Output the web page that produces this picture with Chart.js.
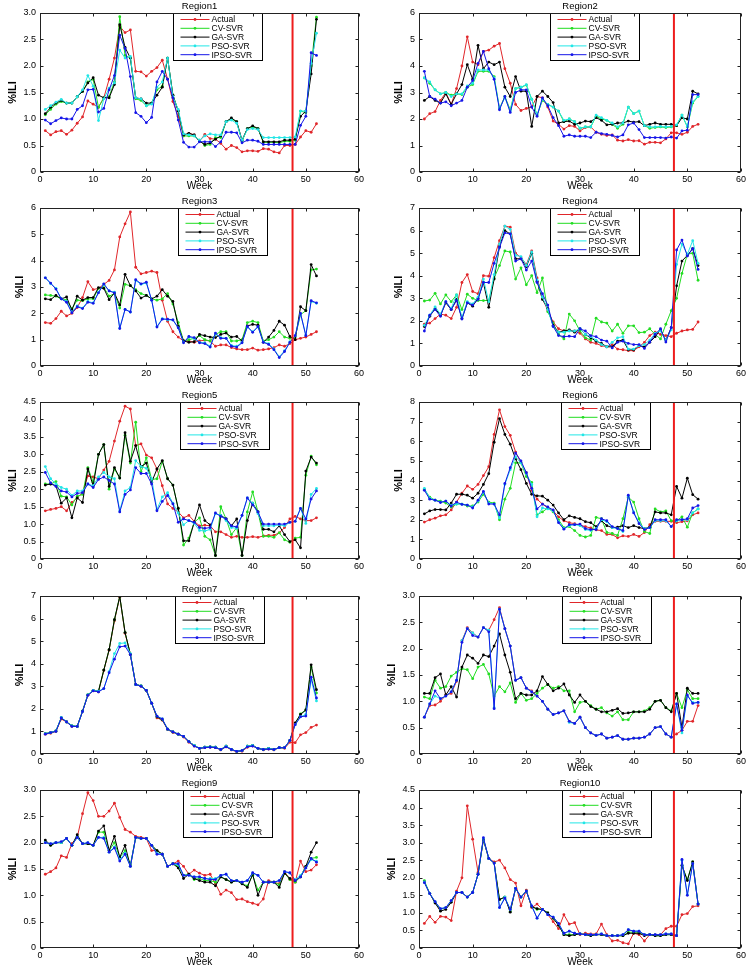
<!DOCTYPE html>
<html>
<head>
<meta charset="utf-8">
<script src="https://cdn.jsdelivr.net/npm/chart.js@4.4.1/dist/chart.umd.min.js"></script>
<style>
  body { margin: 0; background: #fff; width: 751px; height: 970px; position: relative; overflow: hidden; }
  canvas { position: absolute; }
</style>
</head>
<body>
<script>
// ---- data ----
const weeks = [1,2,3,4,5,6,7,8,9,10,11,12,13,14,15,16,17,18,19,20,21,22,23,24,25,26,
  27,28,29,30,31,32,33,34,35,36,37,38,39,40,41,42,43,44,45,46,47,48,49,50,51,52];
const seriesNames = ['Actual', 'CV-SVR', 'GA-SVR', 'PSO-SVR', 'IPSO-SVR'];
const regionNames = ['Region1','Region2','Region3','Region4','Region5','Region6','Region7','Region8','Region9','Region10'];
const yMaxes = [3, 6, 6, 7, 4.5, 8, 7, 3, 3, 4.5];
const ySteps = [0.5, 1, 1, 1, 0.5, 1, 1, 0.5, 0.5, 0.5];
const xTicks = [0, 10, 20, 30, 40, 50, 60];
const splitWeek = 47.5;

const r1Actual = [0.78,0.70,0.76,0.78,0.71,0.79,0.92,1.04,1.34,1.28,
  1.22,1.40,1.75,2.15,2.75,2.63,2.68,1.90,1.89,1.81,
  1.90,1.97,2.11,1.75,1.33,1.05,0.68,0.73,0.70,0.58,
  0.71,0.63,0.62,0.54,0.43,0.50,0.46,0.38,0.40,0.40,
  0.39,0.44,0.43,0.38,0.36,0.50,0.50,0.52,0.66,0.78,
  0.75,0.91];
const r1CV = [1.08,1.18,1.28,1.33,1.30,1.30,1.42,1.52,1.70,1.75,
  1.22,1.40,1.42,1.70,2.93,2.20,2.15,1.38,1.35,1.25,
  1.30,1.55,1.62,2.15,1.45,1.15,0.68,0.68,0.68,0.60,
  0.50,0.52,0.65,0.65,0.95,1.00,0.95,0.58,0.82,0.85,
  0.82,0.56,0.56,0.56,0.55,0.58,0.58,0.60,1.15,1.12,
  2.00,2.92];
const r1GA = [1.10,1.22,1.30,1.35,1.30,1.30,1.42,1.52,1.68,1.78,
  1.45,1.40,1.40,1.65,2.78,2.35,2.15,1.40,1.38,1.30,
  1.30,1.45,1.60,2.15,1.45,1.15,0.70,0.73,0.70,0.58,
  0.52,0.55,0.62,0.68,0.95,1.02,0.95,0.60,0.82,0.87,
  0.82,0.57,0.57,0.57,0.57,0.60,0.60,0.62,1.05,1.15,
  1.85,2.88];
const r1PSO = [1.18,1.25,1.32,1.37,1.30,1.30,1.42,1.55,1.82,1.62,
  0.97,1.38,1.58,1.68,2.30,2.15,2.18,1.40,1.38,1.25,
  1.28,1.60,1.70,2.15,1.42,1.18,0.72,0.70,0.68,0.60,
  0.68,0.72,0.70,0.70,0.95,0.98,0.92,0.60,0.80,0.82,
  0.80,0.65,0.65,0.65,0.65,0.65,0.65,0.66,1.15,1.15,
  2.05,2.62];
const r1IPSO = [0.98,0.91,0.97,1.02,1.00,1.00,1.18,1.25,1.55,1.56,
  1.13,1.20,1.55,1.82,2.58,2.33,1.80,1.12,1.05,0.93,
  1.03,1.70,1.90,1.75,1.40,0.98,0.56,0.47,0.47,0.57,
  0.57,0.57,0.48,0.57,0.75,0.75,0.74,0.55,0.60,0.60,
  0.58,0.52,0.52,0.52,0.52,0.52,0.52,0.52,0.88,1.05,
  2.25,2.20];

const r2Actual = [2.00,2.20,2.28,2.70,3.00,2.55,3.15,4.00,5.10,4.15,
  4.05,4.55,4.60,4.75,4.85,3.90,3.35,2.55,2.32,2.40,
  2.45,2.85,2.80,2.45,1.92,1.80,1.62,1.75,1.72,1.55,
  1.68,1.70,1.50,1.42,1.38,1.40,1.20,1.17,1.22,1.17,
  1.18,1.05,1.12,1.12,1.10,1.25,1.48,1.48,1.42,1.50,
  1.72,1.80];
const r2CV = [3.55,3.35,3.10,2.95,3.00,2.90,2.95,2.92,3.20,3.30,
  3.80,3.80,3.80,3.60,2.40,2.85,2.35,3.15,3.20,3.28,
  2.75,2.15,2.70,2.55,2.45,2.30,1.90,2.00,1.90,1.65,
  1.70,1.70,2.10,2.00,1.95,1.80,1.65,1.80,2.45,2.20,
  2.30,1.75,1.65,1.68,1.70,1.68,1.70,1.75,2.15,1.70,
  2.60,2.85];
const r2GA = [2.70,2.85,2.70,2.60,2.95,2.55,2.95,3.30,4.05,3.50,
  4.78,3.90,4.15,4.05,4.15,3.20,2.85,3.60,3.05,3.05,
  1.72,2.85,3.05,2.85,2.62,1.85,1.90,1.92,1.80,1.85,
  1.92,1.90,2.05,1.95,1.78,1.80,1.85,1.85,1.92,1.88,
  1.90,1.75,1.80,1.85,1.80,1.80,1.80,1.75,2.05,2.00,
  3.05,2.95];
const r2PSO = [3.55,3.40,3.10,2.95,3.00,2.85,2.95,2.95,3.25,3.35,
  3.85,3.85,3.85,3.55,2.40,2.80,2.30,3.15,3.20,3.30,
  2.75,2.15,2.75,2.55,2.45,2.30,1.95,2.00,1.90,1.65,
  1.70,1.70,2.15,2.05,1.95,1.85,1.70,1.85,2.45,2.20,
  2.30,1.75,1.70,1.70,1.72,1.70,1.72,1.78,2.15,1.72,
  2.65,2.85];
const r2IPSO = [3.80,2.85,2.75,2.60,2.65,2.50,2.60,2.70,3.20,3.45,
  4.10,4.55,3.90,3.50,2.35,2.85,2.25,3.00,3.10,3.10,
  2.45,2.10,2.80,2.50,2.05,1.75,1.35,1.40,1.35,1.35,
  1.35,1.30,1.50,1.45,1.42,1.38,1.32,1.40,1.78,1.85,
  1.60,1.30,1.30,1.30,1.30,1.28,1.32,1.28,1.55,1.58,
  2.92,2.92];

const r3Actual = [1.65,1.62,1.80,2.08,1.90,2.00,2.22,2.60,3.20,2.90,
  2.95,3.10,3.25,3.65,4.90,5.40,5.85,3.75,3.50,3.55,
  3.60,3.55,2.50,1.70,1.30,1.10,0.95,0.95,0.90,0.95,
  0.98,0.95,0.75,0.80,0.80,0.70,0.65,0.62,0.62,0.68,
  0.60,0.62,0.65,0.70,0.80,0.75,0.85,1.00,1.05,1.10,
  1.20,1.30];
const r3CV = [2.70,2.68,2.65,2.55,2.50,2.18,2.50,2.48,2.55,2.55,
  2.95,2.98,2.65,2.75,2.20,3.10,3.05,2.90,2.75,2.68,
  2.55,2.50,2.55,2.75,2.35,1.65,0.95,1.00,1.05,1.15,
  1.00,0.95,1.20,1.30,1.30,0.95,0.95,1.00,1.65,1.70,
  1.65,0.95,1.00,1.10,1.30,1.10,1.05,1.10,1.95,2.10,
  3.65,3.68];
const r3GA = [2.55,2.52,2.68,2.55,2.62,2.12,2.65,2.50,2.60,2.60,
  2.98,2.95,2.52,2.78,2.32,3.48,3.05,2.85,2.58,2.68,
  2.55,2.65,2.90,2.65,2.45,1.50,0.95,0.90,0.92,1.20,
  1.15,1.10,1.08,1.20,1.25,1.10,1.12,0.95,1.52,1.58,
  1.55,0.90,1.10,1.35,1.70,1.55,1.12,1.00,2.25,2.10,
  3.85,3.42];
const r3PSO = [3.35,3.12,2.95,2.55,2.45,2.05,2.28,2.20,2.45,2.40,
  2.80,3.10,2.85,2.80,1.45,2.15,2.05,3.25,3.10,3.15,
  2.50,1.50,1.80,1.75,1.75,1.45,0.90,1.10,1.05,0.90,
  0.88,0.75,1.22,1.08,1.05,0.78,0.75,0.90,1.48,1.30,
  1.48,0.92,0.85,0.65,0.35,0.58,0.92,1.15,1.98,1.18,
  2.45,2.38];
const r3IPSO = [3.35,3.15,2.92,2.55,2.42,2.02,2.25,2.18,2.42,2.38,
  2.78,3.12,2.85,2.78,1.42,2.15,2.05,3.28,3.12,3.18,
  2.50,1.48,1.78,1.78,1.75,1.45,0.88,1.12,1.08,0.88,
  0.85,0.72,1.25,1.05,1.05,0.75,0.72,0.88,1.50,1.28,
  1.50,0.90,0.82,0.62,0.32,0.55,0.90,1.15,2.00,1.15,
  2.48,2.40];

const r4Actual = [1.85,1.90,2.10,2.30,2.25,2.10,2.60,3.70,4.05,3.30,
  3.20,4.00,3.98,4.80,5.55,6.20,6.15,5.00,4.80,4.50,
  5.10,3.90,3.00,2.45,1.95,1.65,1.55,1.58,1.55,1.45,
  1.20,1.05,1.00,0.90,0.85,0.95,0.75,0.72,0.68,0.68,
  0.85,1.05,1.35,1.50,1.40,1.35,1.30,1.45,1.55,1.60,
  1.62,1.95];
const r4CV = [2.88,2.92,3.22,2.75,3.15,2.85,3.15,2.50,3.18,3.00,
  2.90,2.90,2.90,3.90,4.45,5.10,5.05,3.85,4.35,3.60,
  4.00,3.25,3.90,2.40,1.90,1.40,1.20,2.30,2.00,1.55,
  1.25,1.15,2.12,1.95,1.90,1.55,1.85,1.45,1.78,1.78,
  1.48,1.50,1.65,1.40,1.20,1.85,2.45,3.00,4.10,4.95,
  5.00,3.80];
const r4GA = [1.75,2.20,2.55,2.25,2.80,2.50,2.95,2.10,2.80,2.65,
  3.00,3.70,2.60,3.85,5.30,6.00,5.85,4.75,4.75,4.40,
  5.00,3.75,2.95,2.55,1.80,1.50,1.55,1.60,1.50,1.65,
  1.40,1.25,1.10,1.00,0.85,0.85,1.10,1.15,0.72,0.72,
  0.90,0.85,1.05,1.30,1.60,1.15,1.70,3.55,4.65,4.90,
  5.20,4.45];
const r4PSO = [1.80,2.25,2.62,2.30,2.85,2.55,3.15,2.15,2.85,2.75,
  3.05,3.85,2.85,4.05,5.40,6.20,6.05,4.90,4.85,4.45,
  5.05,3.80,3.05,2.50,1.75,1.50,1.50,1.55,1.55,1.65,
  1.40,1.30,1.15,0.95,0.85,1.05,1.25,1.30,0.75,0.75,
  0.90,0.95,1.15,1.45,1.55,1.15,1.60,4.50,5.40,4.95,
  5.55,4.55];
const r4IPSO = [1.55,2.25,2.50,2.20,2.85,2.50,2.90,2.08,2.80,2.70,
  2.95,3.70,3.70,4.55,5.25,5.90,5.85,4.65,4.75,4.25,
  4.65,3.70,3.20,2.70,1.75,1.35,1.30,1.32,1.30,1.65,
  1.55,1.35,1.30,1.15,1.10,0.80,1.05,1.10,1.00,0.95,
  0.95,0.78,1.06,1.40,1.65,1.06,1.70,5.14,5.58,4.87,
  5.20,4.28];

const r5Actual = [1.38,1.42,1.45,1.50,1.38,1.62,1.75,1.90,2.38,2.35,
  2.30,2.55,2.80,3.38,3.95,4.38,4.30,3.25,3.30,2.98,
  2.90,2.58,2.10,1.58,1.45,1.35,1.18,1.25,1.08,0.95,
  0.97,0.95,0.78,0.78,0.70,0.62,0.65,0.62,0.62,0.64,
  0.62,0.66,0.68,0.68,0.75,0.90,1.15,1.22,1.15,1.10,
  1.10,1.18];
const r5CV = [2.15,2.15,2.22,1.80,1.78,1.55,1.80,1.85,2.62,2.20,
  3.00,3.28,2.00,2.58,2.32,3.55,2.75,3.92,2.50,2.90,
  2.28,2.30,2.80,2.30,2.12,1.45,0.40,0.60,1.05,1.18,
  0.65,0.55,0.10,1.50,1.15,0.70,0.90,0.10,1.35,1.92,
  1.35,0.65,0.65,0.62,0.75,0.55,0.48,0.60,0.62,2.40,
  2.95,2.70];
const r5GA = [2.12,2.15,2.10,1.60,1.75,1.18,1.75,1.62,2.58,2.10,
  3.00,3.28,2.08,2.62,2.32,3.62,2.80,3.25,2.65,2.75,
  2.20,2.58,2.82,2.30,2.12,1.45,0.52,0.52,1.05,1.55,
  1.10,0.98,0.10,1.25,1.15,0.95,1.15,0.10,1.10,1.60,
  1.35,0.85,0.85,0.78,0.95,0.70,0.50,0.55,0.32,2.52,
  2.92,2.75];
const r5PSO = [2.65,2.30,2.15,2.05,2.00,1.82,1.95,1.95,2.15,2.10,
  2.35,2.48,2.35,2.30,1.38,1.95,2.05,2.82,2.65,2.60,
  2.30,1.42,1.78,1.90,1.60,1.32,0.98,1.10,1.02,0.82,
  0.80,0.85,1.30,1.25,1.10,0.90,0.88,1.25,1.75,1.60,
  1.30,0.95,0.95,0.95,0.98,0.95,1.05,1.08,1.45,1.02,
  1.85,2.02];
const r5IPSO = [2.48,2.18,2.08,1.95,1.92,1.78,1.88,1.90,2.15,2.05,
  2.28,2.35,2.25,2.15,1.35,1.85,1.98,2.62,2.45,2.45,
  2.15,1.38,1.65,1.82,1.58,1.05,1.15,1.10,1.05,0.90,
  0.88,0.90,1.32,1.22,1.15,0.95,0.92,1.25,1.75,1.55,
  1.35,1.00,1.00,1.00,1.00,1.00,1.05,1.08,1.45,1.15,
  1.72,1.95];

const r6Actual = [1.88,2.00,2.08,2.20,2.25,2.50,2.90,3.35,3.72,3.55,
  3.80,4.25,4.70,6.35,7.60,6.75,6.30,5.45,4.90,4.40,
  3.50,3.05,2.80,2.60,2.45,2.15,1.95,1.85,1.80,1.72,
  1.65,1.58,1.48,1.45,1.25,1.25,1.08,1.18,1.15,1.25,
  1.15,1.35,1.75,1.92,1.92,1.92,1.92,1.85,1.90,1.95,
  2.25,2.35];
const r6CV = [3.55,3.15,3.00,2.95,2.85,2.65,2.80,2.80,2.70,2.70,
  2.90,3.30,2.90,2.85,2.00,3.05,3.60,4.90,4.90,4.20,
  3.90,2.25,2.40,2.60,2.40,2.00,1.60,1.65,1.45,1.20,
  1.12,1.20,2.12,2.05,1.35,1.30,1.20,2.05,3.15,2.90,
  2.05,1.40,1.30,2.55,2.40,2.45,1.95,1.95,2.15,1.62,
  2.35,2.55];
const r6GA = [2.30,2.45,2.52,2.52,2.50,2.85,3.30,3.30,3.25,3.10,
  3.35,3.80,4.35,5.95,7.15,6.35,5.85,5.10,4.55,3.85,
  3.30,3.22,3.20,3.00,2.75,2.35,2.00,2.20,2.12,2.05,
  1.90,1.85,1.65,1.95,1.70,1.60,1.62,1.70,1.60,1.70,
  1.60,1.55,1.62,2.40,2.35,2.35,2.25,3.70,3.10,4.12,
  3.28,3.05];
const r6PSO = [3.60,3.10,3.00,2.90,2.95,2.75,2.80,2.80,2.75,2.65,
  2.95,3.40,2.85,2.80,2.10,3.80,4.55,5.20,4.90,4.35,
  3.80,2.15,2.60,2.55,2.45,1.90,1.55,1.70,1.75,1.70,
  1.50,1.45,1.55,2.00,1.90,1.60,1.55,1.40,3.20,2.40,
  1.85,1.55,1.60,1.95,1.95,1.95,1.65,1.95,2.00,2.00,
  2.35,2.55];
const r6IPSO = [3.50,3.05,3.00,2.88,2.95,2.70,2.90,2.78,2.75,2.60,
  3.00,3.45,2.80,2.80,2.25,3.85,4.65,5.40,5.00,4.40,
  3.60,2.55,2.80,2.65,2.50,1.85,1.52,1.75,1.75,1.78,
  1.55,1.50,1.50,2.05,1.95,1.65,1.55,1.45,3.25,2.35,
  1.80,1.50,1.60,2.00,2.00,2.00,1.65,2.00,2.00,2.05,
  2.60,2.72];

const r7Actual = [0.88,0.92,1.00,1.55,1.42,1.22,1.22,1.88,2.60,2.80,
  2.75,3.70,4.60,5.90,6.95,5.35,4.40,3.10,3.00,2.80,
  2.25,1.60,1.50,1.08,0.95,0.88,0.75,0.52,0.35,0.25,
  0.28,0.30,0.28,0.18,0.32,0.18,0.10,0.12,0.30,0.35,
  0.25,0.18,0.22,0.18,0.28,0.25,0.52,0.50,0.85,0.95,
  1.18,1.28];
const r7CV = [0.90,0.95,1.02,1.60,1.42,1.25,1.22,1.90,2.62,2.82,
  2.78,3.72,4.62,5.95,6.98,5.38,4.42,3.08,3.02,2.82,
  2.25,1.65,1.52,1.10,0.98,0.88,0.78,0.55,0.38,0.25,
  0.30,0.32,0.30,0.20,0.35,0.20,0.12,0.15,0.35,0.38,
  0.25,0.20,0.25,0.20,0.28,0.28,0.60,1.35,1.78,1.95,
  3.85,2.70];
const r7GA = [0.90,0.95,1.02,1.60,1.42,1.25,1.22,1.90,2.62,2.82,
  2.78,3.72,4.62,5.95,6.98,5.38,4.42,3.08,3.02,2.82,
  2.25,1.65,1.52,1.10,0.98,0.88,0.78,0.55,0.38,0.25,
  0.30,0.32,0.30,0.20,0.35,0.20,0.12,0.15,0.35,0.38,
  0.25,0.20,0.25,0.20,0.28,0.28,0.60,1.38,1.75,1.95,
  3.95,2.85];
const r7PSO = [0.90,0.95,1.02,1.62,1.42,1.25,1.22,1.88,2.62,2.82,
  2.78,2.90,3.65,4.45,4.90,4.92,4.45,3.08,3.02,2.82,
  2.25,1.68,1.55,1.10,0.98,0.88,0.78,0.55,0.38,0.25,
  0.30,0.32,0.30,0.20,0.35,0.20,0.12,0.15,0.35,0.38,
  0.25,0.20,0.25,0.20,0.28,0.28,0.60,1.30,1.65,1.75,
  3.30,2.35];
const r7IPSO = [0.88,0.95,1.00,1.60,1.42,1.22,1.22,1.88,2.60,2.80,
  2.75,2.90,3.60,4.20,4.75,4.78,4.40,3.08,3.00,2.82,
  2.25,1.68,1.55,1.10,0.98,0.88,0.78,0.55,0.35,0.25,
  0.28,0.30,0.28,0.20,0.32,0.20,0.12,0.15,0.32,0.35,
  0.25,0.20,0.22,0.20,0.28,0.28,0.60,1.30,1.65,1.68,
  3.40,2.48];

const r8Actual = [0.70,0.92,0.93,1.00,1.12,1.15,1.38,2.15,2.40,2.30,
  2.22,2.40,2.35,2.55,2.78,2.38,2.05,1.40,1.45,1.25,
  1.20,1.10,1.00,0.85,0.75,0.78,0.82,0.62,0.58,0.70,
  0.50,0.40,0.35,0.38,0.30,0.32,0.35,0.28,0.28,0.30,
  0.30,0.32,0.38,0.50,0.52,0.38,0.32,0.38,0.45,0.62,
  0.62,0.92];
const r8CV = [1.08,1.05,1.40,1.25,1.28,1.48,1.55,1.62,1.60,1.43,
  1.65,1.70,1.52,1.10,1.28,1.18,1.35,0.98,1.15,1.02,
  1.05,1.15,1.25,1.32,1.25,1.28,1.20,1.20,0.80,0.98,
  1.00,0.92,0.85,0.88,0.78,0.72,0.80,0.65,0.65,0.80,
  0.80,0.82,0.88,1.00,1.02,0.88,0.82,1.15,0.88,1.22,
  1.05,1.05];
const r8GA = [1.15,1.15,1.45,1.52,1.12,1.28,1.08,1.65,1.88,1.82,
  1.72,1.88,1.85,2.05,2.28,1.88,1.55,1.05,1.15,1.12,
  1.12,1.20,1.47,1.32,1.20,1.25,1.33,1.12,0.98,1.12,
  1.00,0.90,0.85,0.80,0.80,0.83,0.86,0.77,0.78,0.80,
  0.80,0.80,0.85,1.00,1.02,0.88,0.80,1.15,0.50,1.25,
  1.15,1.15];
const r8PSO = [0.70,0.95,1.10,1.05,1.10,1.18,1.40,2.15,2.38,2.30,
  2.22,2.40,2.35,0.88,2.75,2.38,2.05,1.40,1.45,1.25,
  1.18,1.10,1.00,0.85,0.75,0.78,0.82,0.60,0.58,0.70,
  0.50,0.40,0.35,0.38,0.30,0.32,0.35,0.28,0.28,0.30,
  0.30,0.32,0.38,0.50,0.52,0.38,0.32,0.95,0.40,1.10,
  0.98,0.98];
const r8IPSO = [0.70,0.95,1.20,1.05,1.10,1.18,1.40,2.12,2.38,2.25,
  2.22,2.40,2.32,0.86,2.75,2.38,2.05,1.40,1.45,1.25,
  1.18,1.10,1.00,0.85,0.75,0.78,0.82,0.62,0.58,0.70,
  0.50,0.40,0.35,0.38,0.30,0.32,0.35,0.28,0.28,0.30,
  0.30,0.32,0.38,0.50,0.52,0.38,0.32,0.95,0.45,1.12,
  0.96,0.98];

const r9Actual = [1.40,1.45,1.52,1.75,1.72,1.98,2.10,2.55,2.95,2.80,
  2.50,2.50,2.60,2.75,2.48,2.25,2.20,2.12,2.10,2.08,
  1.85,1.85,1.78,1.55,1.60,1.65,1.55,1.40,1.48,1.42,
  1.38,1.40,1.22,1.02,1.10,1.05,0.92,0.93,0.88,0.85,
  0.82,0.93,1.28,1.25,1.22,1.45,1.30,1.25,1.65,1.45,
  1.48,1.58];
const r9CV = [2.02,1.95,2.00,2.00,2.08,1.95,2.12,1.98,1.98,1.95,
  2.20,2.20,1.85,2.00,1.72,1.85,1.58,2.10,2.08,2.08,
  1.95,1.85,1.78,1.55,1.60,1.55,1.38,1.40,1.30,1.32,
  1.28,1.28,1.25,1.35,1.30,1.25,1.28,1.22,1.18,1.38,
  1.10,1.25,1.25,1.25,1.20,1.42,1.30,1.25,1.35,1.55,
  1.70,1.72];
const r9GA = [2.05,1.95,2.00,2.00,2.08,1.95,2.15,1.98,1.98,1.95,
  2.22,2.32,1.85,2.12,1.72,1.95,1.55,2.10,2.08,2.08,
  1.95,1.85,1.78,1.55,1.60,1.52,1.32,1.40,1.32,1.28,
  1.25,1.25,1.18,1.35,1.30,1.25,1.28,1.22,1.15,1.40,
  1.00,1.25,1.25,1.25,1.15,1.42,1.32,1.28,1.35,1.55,
  1.82,2.00];
const r9PSO = [2.00,1.98,2.00,2.00,2.08,1.95,2.10,1.98,2.00,1.95,
  2.10,2.10,1.82,1.92,1.68,1.80,1.55,2.10,2.08,2.08,
  1.95,1.80,1.78,1.55,1.60,1.58,1.38,1.38,1.35,1.35,
  1.32,1.32,1.32,1.38,1.40,1.28,1.28,1.25,1.28,1.42,
  1.38,1.25,1.25,1.25,1.28,1.45,1.42,1.30,1.38,1.52,
  1.68,1.65];
const r9IPSO = [2.00,1.98,2.00,2.02,2.08,1.95,2.10,1.98,2.00,1.95,
  2.10,2.08,1.82,1.90,1.65,1.78,1.55,2.10,2.08,2.08,
  1.95,1.78,1.78,1.55,1.60,1.60,1.38,1.38,1.35,1.35,
  1.32,1.30,1.30,1.38,1.40,1.28,1.28,1.25,1.28,1.43,
  1.38,1.25,1.25,1.25,1.28,1.45,1.43,1.28,1.35,1.52,
  1.70,1.63];

const r10Actual = [0.70,0.90,0.73,0.90,0.88,0.78,1.62,2.00,4.05,3.10,
  2.15,3.10,2.55,2.45,2.50,2.28,1.95,1.85,1.20,1.65,
  1.15,1.25,1.10,0.95,0.75,0.55,0.95,0.68,0.72,0.38,
  0.42,0.40,0.40,0.68,0.38,0.20,0.22,0.15,0.12,0.42,
  0.38,0.20,0.38,0.38,0.38,0.55,0.62,0.62,0.95,0.98,
  1.18,1.20];
const r10CV = [1.92,1.55,1.30,1.10,1.15,1.32,1.58,1.58,1.45,1.58,
  2.10,3.10,2.55,2.42,1.38,1.45,1.05,1.70,1.45,1.62,
  1.18,1.10,1.10,1.00,0.85,0.65,0.38,0.38,0.38,0.40,
  0.38,0.35,0.38,0.38,0.35,0.35,0.35,0.35,0.45,0.45,
  0.45,0.38,0.38,0.35,0.35,0.38,0.38,0.35,2.35,1.95,
  2.45,1.25];
const r10GA = [1.88,1.55,1.28,1.05,1.10,1.30,1.58,1.58,1.45,1.58,
  2.10,3.08,2.55,2.42,1.38,1.45,1.02,1.70,1.45,1.62,
  1.18,1.12,1.10,1.00,0.85,0.65,0.38,0.35,0.38,0.40,
  0.38,0.35,0.38,0.38,0.35,0.35,0.35,0.35,0.42,0.42,
  0.42,0.35,0.38,0.35,0.35,0.38,0.38,0.35,2.35,1.92,
  2.45,1.25];
const r10PSO = [1.88,1.55,1.32,1.12,1.15,1.35,1.58,1.58,1.45,1.58,
  2.10,3.12,2.55,2.42,1.15,1.45,1.10,1.70,1.45,1.62,
  1.20,0.85,1.10,0.95,0.88,0.70,0.42,0.48,0.42,0.40,
  0.38,0.38,0.38,0.40,0.35,0.35,0.35,0.38,0.52,0.48,
  0.48,0.38,0.38,0.38,0.38,0.40,0.40,0.35,2.50,1.52,
  2.40,1.25];
const r10IPSO = [1.86,1.55,1.32,1.12,1.15,1.35,1.58,1.58,1.45,1.58,
  2.10,3.14,2.55,2.42,1.15,1.42,1.10,1.70,1.45,1.62,
  1.20,0.85,1.10,0.95,0.88,0.70,0.42,0.48,0.42,0.40,
  0.38,0.38,0.38,0.40,0.35,0.35,0.35,0.38,0.52,0.48,
  0.48,0.38,0.38,0.38,0.38,0.40,0.40,0.35,2.52,1.50,
  2.40,1.25];

const regionSeries = [
  [r1Actual, r1CV, r1GA, r1PSO, r1IPSO],
  [r2Actual, r2CV, r2GA, r2PSO, r2IPSO],
  [r3Actual, r3CV, r3GA, r3PSO, r3IPSO],
  [r4Actual, r4CV, r4GA, r4PSO, r4IPSO],
  [r5Actual, r5CV, r5GA, r5PSO, r5IPSO],
  [r6Actual, r6CV, r6GA, r6PSO, r6IPSO],
  [r7Actual, r7CV, r7GA, r7PSO, r7IPSO],
  [r8Actual, r8CV, r8GA, r8PSO, r8IPSO],
  [r9Actual, r9CV, r9GA, r9PSO, r9IPSO],
  [r10Actual, r10CV, r10GA, r10PSO, r10IPSO]
];

// ---- layout / style ----
const FONT = "'Liberation Sans', Arial, sans-serif";
const seriesColors = ['#e0262a', '#22dd22', '#000000', '#22e6e6', '#1515e8'];
const cols = [
  { cx: 0, cw: 375, L: 40, R: 359 },
  { cx: 375, cw: 376, L: 419, R: 741 }
];
const rowTops = [13, 208, 402, 596, 790];
const rowBottoms = [172, 366, 559, 754, 948];
const legendOffsets = [133, 131, 138, 131, 140, 142, 135, 143, 143, 143];

const framePlugin = {
  id: 'frame',
  afterDatasetsDraw(chart, args, opts) {
    const ctx = chart.ctx;
    const a = chart.chartArea;
    const xs = chart.scales.x, ys = chart.scales.y;

    ctx.save();
    // forecast split line
    const xr = xs.getPixelForValue(splitWeek);
    ctx.strokeStyle = '#ee1c1c';
    ctx.lineWidth = 2;
    ctx.beginPath();
    ctx.moveTo(xr, a.top);
    ctx.lineTo(xr, a.bottom);
    ctx.stroke();

    // legend box
    const bx = Math.round(a.left + opts.legendX) + 0.5;
    const by = Math.round(a.top) + 0.5;
    const bw = 89, bh = 47;
    ctx.fillStyle = '#fff';
    ctx.fillRect(bx, by, bw, bh);
    ctx.strokeStyle = '#000';
    ctx.lineWidth = 1;
    ctx.strokeRect(bx, by, bw, bh);
    ctx.font = '8.5px ' + FONT;
    ctx.textBaseline = 'middle';
    ctx.textAlign = 'left';
    chart.data.datasets.forEach((ds, k) => {
      const yy = by + 6 + k * 8.8;
      ctx.strokeStyle = ds.borderColor;
      ctx.beginPath();
      ctx.moveTo(bx + 7, yy);
      ctx.lineTo(bx + 36, yy);
      ctx.stroke();
      ctx.fillStyle = ds.borderColor;
      ctx.beginPath();
      ctx.arc(bx + 21.5, yy, 1.4, 0, Math.PI * 2);
      ctx.fill();
      ctx.fillStyle = '#000';
      ctx.fillText(ds.label, bx + 38, yy + 0.5);
    });

    // axes box with inward ticks
    ctx.strokeStyle = '#222';
    ctx.lineWidth = 1;
    const l = Math.round(a.left) + 0.5, r = Math.round(a.right) - 0.5;
    const t = Math.round(a.top) + 0.5, b = Math.round(a.bottom) - 0.5;
    ctx.strokeRect(l, t, r - l, b - t);
    ctx.beginPath();
    xs.ticks.forEach(tk => {
      const px = Math.round(xs.getPixelForValue(tk.value)) + 0.5;
      ctx.moveTo(px, b); ctx.lineTo(px, b - 3);
      ctx.moveTo(px, t); ctx.lineTo(px, t + 3);
    });
    ys.ticks.forEach(tk => {
      const py = Math.round(ys.getPixelForValue(tk.value)) + 0.5;
      ctx.moveTo(l, py); ctx.lineTo(l + 3, py);
      ctx.moveTo(r, py); ctx.lineTo(r - 3, py);
    });
    ctx.stroke();

    // titles
    ctx.fillStyle = '#000';
    ctx.textAlign = 'center';
    ctx.textBaseline = 'middle';
    const cxm = (a.left + a.right) / 2;
    ctx.font = '9.5px ' + FONT;
    ctx.fillText(opts.title, cxm, a.top - 7);
    ctx.font = '10px ' + FONT;
    ctx.fillText('Week', cxm, a.bottom + 14);
    ctx.translate(a.left - opts.ylabOff, (a.top + a.bottom) / 2);
    ctx.rotate(-Math.PI / 2);
    ctx.font = 'bold 11px ' + FONT;
    ctx.fillText('%ILI', 0, 0);
    ctx.restore();
  }
};

function makeChart(idx) {
  const c = cols[idx % 2];
  const row = Math.floor(idx / 2);
  const pTop = rowTops[row], pBot = rowBottoms[row];
  const cTop = pTop - 14;
  const cH = pBot - pTop + 38;
  const canvas = document.createElement('canvas');
  canvas.width = c.cw;
  canvas.height = cH;
  canvas.style.left = c.cx + 'px';
  canvas.style.top = cTop + 'px';
  document.body.appendChild(canvas);

  const series = regionSeries[idx];
  const decimals = ySteps[idx] < 1;

  new Chart(canvas, {
    type: 'line',
    data: {
      datasets: series.map((vals, k) => ({
        label: seriesNames[k],
        data: vals.map((v, i) => ({ x: weeks[i], y: v })),
        borderColor: seriesColors[k],
        backgroundColor: seriesColors[k],
        borderWidth: 1,
        pointRadius: 1.4,
        pointBorderWidth: 0,
        pointHoverRadius: 0,
        tension: 0,
        order: 5 - k
      }))
    },
    options: {
      responsive: false,
      animation: false,
      devicePixelRatio: 1,
      layout: { padding: { top: 14, right: (c.cx + c.cw) - c.R, left: 0, bottom: 0 } },
      plugins: {
        legend: { display: false },
        tooltip: { enabled: false },
        frame: { title: regionNames[idx], legendX: legendOffsets[idx], ylabOff: decimals ? 27 : 20 }
      },
      scales: {
        x: {
          type: 'linear', min: 0, max: 60,
          afterBuildTicks: s => { s.ticks = xTicks.map(v => ({ value: v })); },
          ticks: { autoSkip: false, maxRotation: 0, padding: 2, color: '#000', font: { size: 9, family: FONT } },
          grid: { display: false, drawTicks: false, tickLength: 0 },
          border: { display: false },
          afterFit: s => { s.height = cH - (pBot - cTop); }
        },
        y: {
          type: 'linear', min: 0, max: yMaxes[idx],
          ticks: { stepSize: ySteps[idx], padding: 4, color: '#000', font: { size: 9, family: FONT } },
          grid: { display: false, drawTicks: false, tickLength: 0 },
          border: { display: false },
          afterFit: s => { s.width = c.L - c.cx; }
        }
      }
    },
    plugins: [framePlugin]
  });
}

for (let i = 0; i < 10; i++) makeChart(i);
</script>
</body>
</html>
